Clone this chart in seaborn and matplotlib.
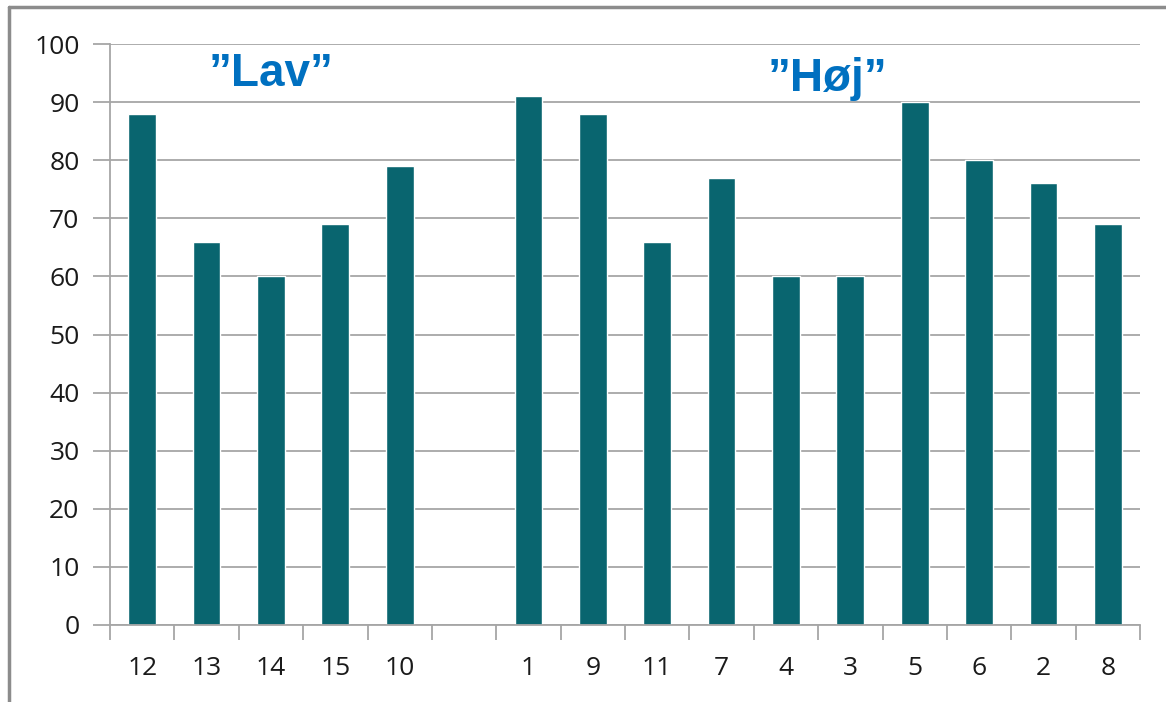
import matplotlib
matplotlib.use("Agg")
import matplotlib.pyplot as plt
from matplotlib.lines import Line2D
from matplotlib.ticker import FixedLocator
import seaborn as sns
import pandas as pd
import numpy as np

categories = ["12", "13", "14", "15", "10", " ", "1", "9", "11", "7", "4", "3", "5", "6", "2", "8"]
values = [88, 66, 60, 69, 79, np.nan, 91, 88, 66, 77, 60, 60, 90, 80, 76, 69]
group_labels = ["\u201dLav\u201d", "\u201dH\u00f8j\u201d"]

sns.set_theme(style="white")
plt.rcParams["font.family"] = ["Open Sans", "DejaVu Sans"]

df = pd.DataFrame({"cat": categories, "val": values})

fig = plt.figure(figsize=(11.66, 7.02), dpi=100)
ax = fig.add_axes([110/1166, 77/702, (1140-110)/1166, (625-44)/702])

sns.barplot(data=df.dropna(), x="cat", y="val", order=categories, color="#09656F",
            saturation=1, width=0.43, ax=ax, errorbar=None)

grey = "#A6A6A6"
ax.set_xlim(-0.5, len(categories) - 0.5)
ax.set_ylim(0, 100)
ax.set_yticks(np.arange(0, 101, 10))
ax.yaxis.grid(True, color=grey, linewidth=1.3)
ax.set_axisbelow(True)
ax.set_xlabel("")
ax.set_ylabel("")
for s in ["top", "right"]:
    ax.spines[s].set_visible(False)
for s in ["left", "bottom"]:
    ax.spines[s].set_color(grey)
    ax.spines[s].set_linewidth(1.3)

ax.xaxis.set_minor_locator(FixedLocator(np.arange(-0.5, len(categories), 1)))
ax.tick_params(axis="x", which="major", length=0, pad=22, labelsize=19, labelcolor="#1a1a1a")
ax.tick_params(axis="x", which="minor", length=11, width=1.3, color=grey, bottom=True, direction="out")
ax.tick_params(axis="y", which="major", length=12, width=1.3, color=grey, left=True, direction="out",
               pad=10, labelsize=19, labelcolor="#1a1a1a")

ax.text(2.0, 94.8, group_labels[0], color="#0070C0", fontsize=33, fontweight="bold",
        family=["Liberation Sans", "DejaVu Sans"], ha="center", va="center")
ax.text(10.65, 93.9, group_labels[1], color="#0070C0", fontsize=33, fontweight="bold",
        family=["Liberation Sans", "DejaVu Sans"], ha="center", va="center")

# outer frame (top and left edge visible)
fig.add_artist(Line2D([9/1166, 9/1166], [0, 1 - 7/702], transform=fig.transFigure, color="#8C8C8C", linewidth=2.5))
fig.add_artist(Line2D([9/1166, 1.0], [1 - 7/702, 1 - 7/702], transform=fig.transFigure, color="#8C8C8C", linewidth=2.5))

fig.savefig("out.png", dpi=100)
